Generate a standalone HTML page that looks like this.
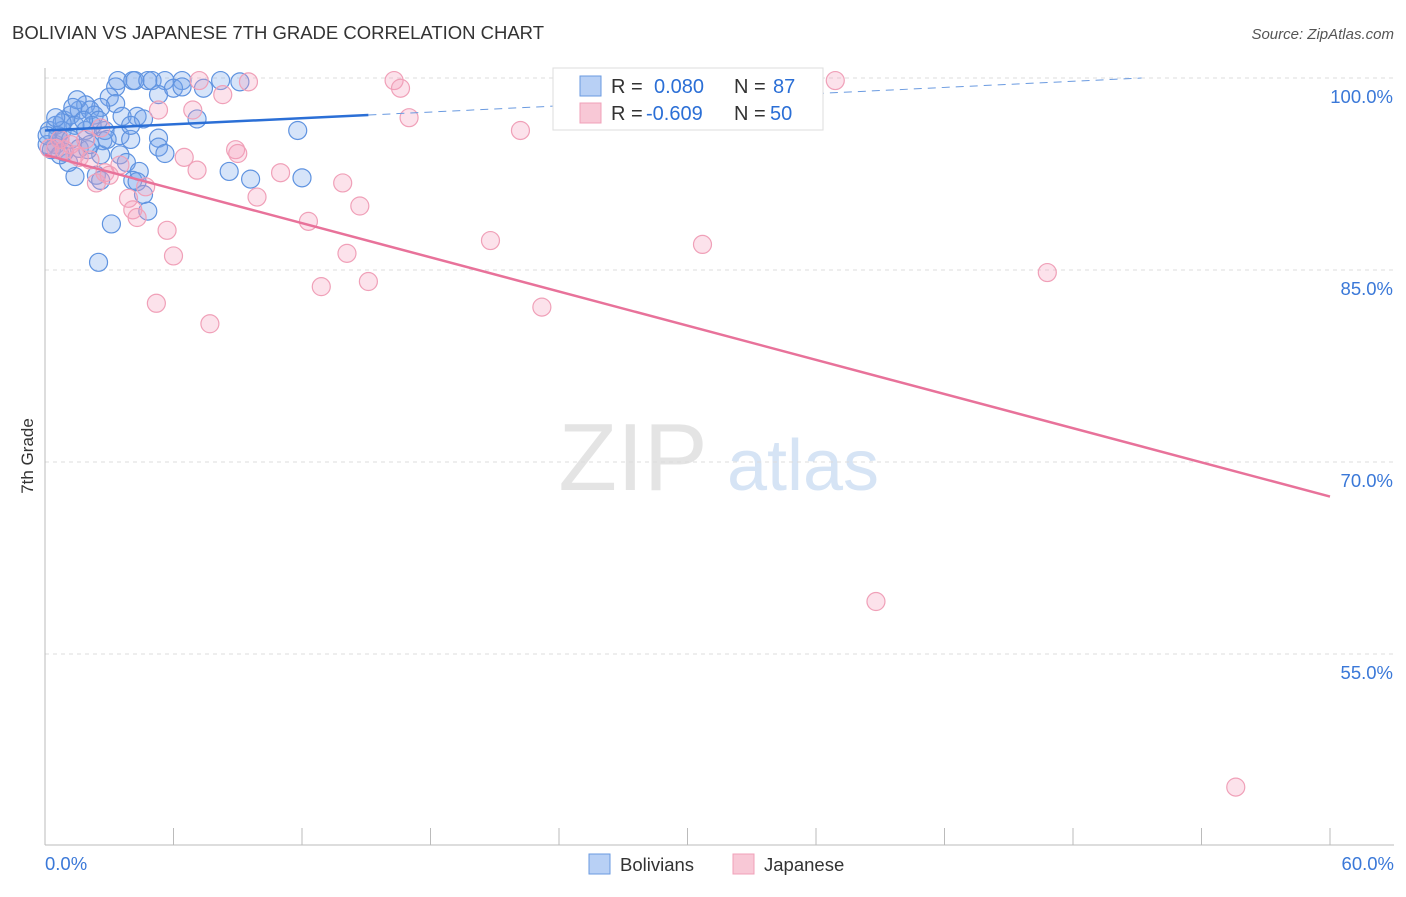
<!DOCTYPE html>
<html><head><meta charset="utf-8"><style>
body{margin:0;background:#fff;font-family:"Liberation Sans",sans-serif}
svg text{font-family:"Liberation Sans",sans-serif}
</style></head><body>
<svg width="1406" height="892" xmlns="http://www.w3.org/2000/svg">
<text x="12" y="39" font-size="18.5" fill="#333" textLength="532">BOLIVIAN VS JAPANESE 7TH GRADE CORRELATION CHART</text>
<text x="1394" y="39" font-size="15" fill="#555" text-anchor="end" font-style="italic">Source: ZipAtlas.com</text>
<text x="33" y="456" font-size="17" fill="#333" text-anchor="middle" transform="rotate(-90 33 456)">7th Grade</text>
<g><text x="633" y="490" font-size="96" fill="#e4e4e4" text-anchor="middle" font-family="Liberation Serif">ZIP</text><text x="803" y="490" font-size="72" fill="#d6e4f5" text-anchor="middle">atlas</text></g>
<g id="grid"></g><g id="axes"></g><g id="marks"></g>
<g>
<rect x="553" y="68" width="270" height="62" fill="#fff" stroke="#ddd"/>
<rect x="580" y="76" width="21" height="20" fill="#b8d0f5" stroke="#6a9ae0"/>
<rect x="580" y="103" width="21" height="20" fill="#f8c8d6" stroke="#f0a0b8"/>
<text x="611" y="93" font-size="20" fill="#333">R = <tspan fill="#2b6fd6" x="654">0.080</tspan><tspan x="734" fill="#333">N = </tspan><tspan fill="#2b6fd6" x="773">87</tspan></text>
<text x="611" y="120" font-size="20" fill="#333">R = <tspan fill="#2b6fd6" x="646">-0.609</tspan><tspan x="734" fill="#333">N = </tspan><tspan fill="#2b6fd6" x="770">50</tspan></text>
</g>
<g>
<rect x="589" y="854" width="21" height="20" fill="#b8d0f5" stroke="#6a9ae0"/><text x="620" y="871" font-size="18.5" fill="#333">Bolivians</text>
<rect x="733" y="854" width="21" height="20" fill="#f8c8d6" stroke="#f0a0b8"/><text x="764" y="871" font-size="18.5" fill="#333">Japanese</text>
</g>
</svg>
<script>
const blueX=[3.4,4.1,4.2,4.8,5.0,5.6,6.4,8.2,9.1,3.3,5.3,6.0,6.4,7.4,3.0,3.3,2.6,3.6,4.3,4.6,7.1,11.8,3.5,4.0,5.3,5.3,5.6,2.7,3.5,2.6,3.8,4.4,8.6,9.6,12.0,1.4,2.4,2.6,4.1,4.3,4.6,4.8,3.1,2.5,1.1,0.5,0.7,0.2,0.5,0.9,1.2,1.6,1.9,2.1,2.3,1.4,1.9,2.2,2.8,0.8,0.1,0.3,0.6,1.2,1.6,2.0,1.5,1.3,0.8,2.5,2.9,4.0,0.1,0.9,1.8,2.1,0.5,0.7];
const blueY=[99.8,99.8,99.8,99.8,99.8,99.8,99.8,99.8,99.7,99.3,98.7,99.2,99.3,99.2,98.5,98.0,97.7,97.0,97.0,96.8,96.8,95.9,95.5,95.2,95.3,94.6,94.1,95.1,94.0,94.0,93.4,92.7,92.7,92.1,92.2,92.3,92.4,92.0,92.0,91.9,90.9,89.6,88.6,85.6,93.4,94.8,95.2,95.9,96.3,96.7,97.1,97.5,97.9,97.5,97.1,96.3,95.9,96.3,95.9,95.9,94.8,94.4,95.5,95.2,94.5,94.4,98.3,97.7,96.5,96.7,95.2,96.3,95.5,94.2,96.7,94.8,96.9,94.0];
const pinkX=[7.2,9.5,16.3,16.6,36.9,8.3,5.3,6.9,17.0,22.2,8.9,6.5,7.1,11.0,13.9,14.7,9.9,12.3,20.8,30.7,14.1,6.0,12.9,15.1,23.2,5.2,7.7,46.8,38.8,55.6,4.7,3.9,4.1,4.3,5.7,2.4,2.8,3.5,1.6,0.9,0.5,0.2,1.2,1.9,2.6,3.0,9.0,2.1,1.4,0.7];
const pinkY=[99.8,99.7,99.8,99.2,99.8,98.7,97.5,97.5,96.9,95.9,94.4,93.8,92.8,92.6,91.8,90.0,90.7,88.8,87.3,87.0,86.3,86.1,83.7,84.1,82.1,82.4,80.8,84.8,59.1,44.6,91.5,90.6,89.7,89.1,88.1,91.8,92.6,93.2,93.8,94.4,94.5,94.5,94.8,95.2,96.1,92.4,94.1,93.6,94.0,95.2];
const blueTrend=[95.9,100.0];const blueSolidEnd=15.1;const blueDashEnd=51.2;
const pinkTrend=[94.0,67.3];
const yTicks=[100,85,70,55];const xTickLabels=["0.0%","60.0%"];
const NS="http://www.w3.org/2000/svg";
const sx=v=>45+v/60*1285, sy=v=>78+(100-v)*12.8;
function mk(tag,attrs,parent){const e=document.createElementNS(NS,tag);for(const k in attrs)e.setAttribute(k,attrs[k]);document.getElementById(parent).appendChild(e);return e;}
yTicks.forEach(t=>{
 const l=mk('line',{x1:45,x2:1394,y1:sy(t),y2:sy(t),stroke:'#ddd','stroke-dasharray':'4,4'},'grid');
 
 
 const tx=mk('text',{x:1393,y:sy(t)+25,'font-size':18.5,fill:'#3a78d8','text-anchor':'end'},'grid');
 tx.textContent=t.toFixed(1)+'%';
 
 
});
mk('line',{x1:45,x2:45,y1:68,y2:845,stroke:'#bbb'},'axes');
mk('line',{x1:45,x2:1394,y1:845,y2:845,stroke:'#bbb'},'axes');
for(let i=0;i<=10;i++){const x=sx(i*6);const t=mk('line',{x1:x,x2:x,y1:828,y2:845,stroke:'#bbb'},'axes');}
[[0,'start',45],[60,'end',1394]].forEach((d,i)=>{const t=mk('text',{x:d[2],y:870,'font-size':18.5,fill:'#3a78d8','text-anchor':d[1]},'axes');t.textContent=xTickLabels[i];});
blueX.forEach((x,i)=>{const c=mk('circle',{cx:sx(x),cy:sy(blueY[i]),r:9,fill:'rgba(120,165,235,0.3)',stroke:'#5f93e0','stroke-width':1.2},'marks');});
pinkX.forEach((x,i)=>{const c=mk('circle',{cx:sx(x),cy:sy(pinkY[i]),r:9,fill:'rgba(245,160,190,0.3)',stroke:'#f0a0b8','stroke-width':1.2},'marks');});
const bAt=x=>blueTrend[0]+(blueTrend[1]-blueTrend[0])*x/blueDashEnd;
let l1=mk('line',{x1:sx(0),y1:sy(bAt(0)),x2:sx(blueSolidEnd),y2:sy(bAt(blueSolidEnd)),stroke:'#2b6fd6','stroke-width':2.5},'marks');


let l2=mk('line',{x1:sx(blueSolidEnd),y1:sy(bAt(blueSolidEnd)),x2:sx(blueDashEnd),y2:sy(bAt(blueDashEnd)),stroke:'#6a9ae0','stroke-width':1,'stroke-dasharray':'8,6'},'marks');


let l3=mk('line',{x1:sx(0),y1:sy(pinkTrend[0]),x2:sx(60),y2:sy(pinkTrend[1]),stroke:'#e8729a','stroke-width':2.5},'marks');


</script>
</body></html>
